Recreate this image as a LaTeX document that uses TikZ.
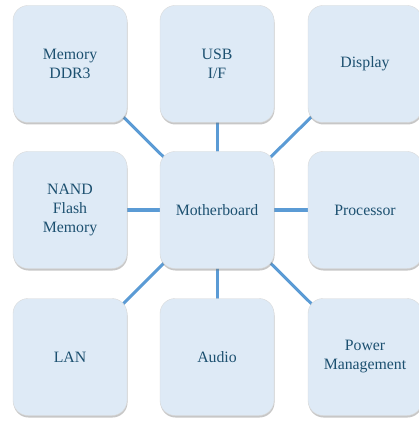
\documentclass[tikz,border=0pt]{standalone}
\usepackage{fontspec}
\setmainfont{Liberation Serif}
\usepackage{tikz}
\usetikzlibrary{shadows, backgrounds}

\definecolor{boxfill}{RGB}{222,234,246}
\definecolor{boxtext}{RGB}{28,80,112}
\definecolor{linkblue}{RGB}{91,155,213}

\begin{document}
\begin{tikzpicture}[
        x=1pt, y=-1pt,
        every node/.style={align=center, font=\fontsize{15.8}{19}\selectfont, text=boxtext},
        part/.style={draw=gray!30, line width=0.4pt, fill=boxfill, rounded corners=15pt,
            minimum width=114pt, minimum height=117pt, inner sep=2pt,
            drop shadow={shadow xshift=0.5pt, shadow yshift=-2pt, opacity=0.4, fill=black!55}},
        link/.style={linkblue, line width=3pt}
    ]
        \useasboundingbox (0,0) rectangle (418,427);

        \node[part] (memory) at (70, 64) {Memory\\DDR3};
        \node[part] (usb) at (217, 64) {USB\\I/F};
        \node[part] (display) at (365, 64) {Display};

        \node[part] (nand) at (70, 210) {NAND\\Flash\\Memory};
        \node[part] (board) at (217, 210) {Motherboard};
        \node[part] (cpu) at (365, 210) {Processor};

        \node[part] (lan) at (70, 357) {LAN};
        \node[part] (audio) at (217, 357) {Audio};
        \node[part] (power) at (365, 357) {Power\\Management};

        % links sit under the boxes
        \begin{scope}[on background layer]
            \foreach \other in {memory, usb, display, nand, cpu, lan, audio, power}
                \draw[link] (board.center) -- (\other.center);
        \end{scope}
    \end{tikzpicture}
\end{document}
